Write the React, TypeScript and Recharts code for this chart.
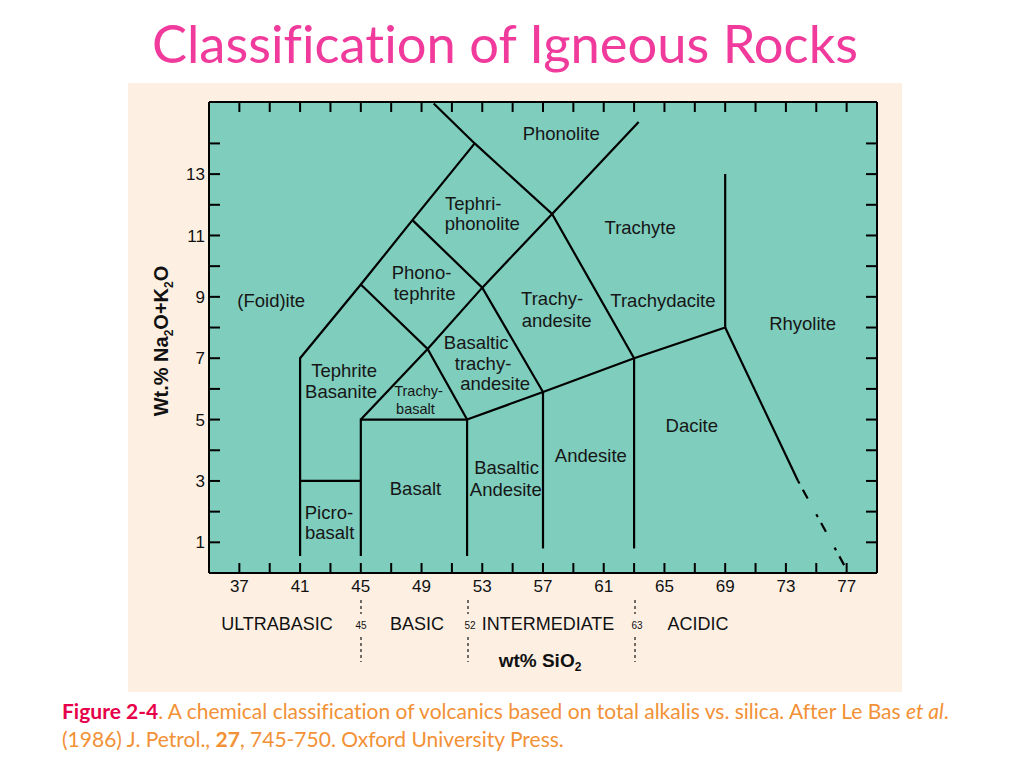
import React from 'react';
import { ComposedChart, Line, Scatter, XAxis, YAxis, CartesianGrid } from 'recharts';

// axis ticks (wt% SiO2 / wt% Na2O+K2O)
const X_TICKS = [37, 39, 41, 43, 45, 47, 49, 51, 53, 55, 57, 59, 61, 63, 65, 67, 69, 71, 73, 75, 77];
const X_LABELS = [37, 41, 45, 49, 53, 57, 61, 65, 69, 73, 77];
const Y_TICKS = [1, 2, 3, 4, 5, 6, 7, 8, 9, 10, 11, 12, 13, 14];
const Y_LABELS = [1, 3, 5, 7, 9, 11, 13];

// field boundaries as [SiO2, Na2O+K2O]
const foiditeEdge = [[41, 0.55], [41, 7], [45, 9.4], [48.4, 11.5], [52.5, 14]];
const phonoliteEdge = [[49.8, 15.3], [52.5, 14], [57.6, 11.7], [63, 7]];
const phonotephriteBase = [[45, 9.4], [49.4, 7.3], [52, 5]];
const tephriphonoliteBase = [[48.4, 11.5], [53, 9.3], [57, 5.9]];
const trachyteEdge = [[45, 5], [49.4, 7.3], [53, 9.3], [57.6, 11.7], [63.3, 14.7]];
const picrobasaltTop = [[41, 3], [45, 3]];
const basaltBox = [[45, 0.55], [45, 5], [52, 5], [52, 0.55]];
const alkalineEdge = [[52, 5], [57, 5.9], [63, 7], [69, 8], [69, 13]];
const andesiteEdge = [[57, 5.9], [57, 0.8]];
const daciteEdge = [[63, 7], [63, 0.8]];
const rhyoliteEdge = [[69, 8], [73.8, 3]];
const rhyoliteDashed = [[73.8, 3], [76.9, 0.2]];

const SOLID = [foiditeEdge, phonoliteEdge, phonotephriteBase, tephriphonoliteBase, trachyteEdge,
  picrobasaltTop, basaltBox, alkalineEdge, andesiteEdge, daciteEdge, rhyoliteEdge];

// rock names, one entry per text line
const FIELD_NAMES = ['Phonolite', 'Tephri-', 'phonolite', 'Trachyte', 'Phono-', 'tephrite', '(Foid)ite',
  'Trachy-', 'andesite', 'Trachydacite', 'Rhyolite', 'Basaltic', 'trachy-', 'andesite', 'Tephrite',
  'Basanite', 'Trachy-', 'basalt', 'Dacite', 'Andesite', 'Basaltic', 'Andesite', 'Basalt', 'Picro-', 'basalt'];
const FIELD_X = [58.2, 52.4, 53.0, 63.4, 49.0, 49.2, 39.1, 57.6, 57.9, 64.9, 74.1, 52.6, 53.05, 53.85, 43.9,
  43.7, 48.8, 48.6, 66.8, 60.15, 54.6, 54.55, 48.6, 42.9, 42.95];
const FIELD_Y = [14.34, 12.06, 11.41, 11.25, 9.81, 9.13, 8.87, 8.96, 8.25, 8.9, 8.15, 7.53, 6.84, 6.19, 6.62,
  5.93, 5.93, 5.35, 4.82, 3.85, 3.45, 2.74, 2.77, 1.99, 1.34];
const SMALL_NAMES = [16, 17];

const pts = (a: number[][]) => a.map(([x, y]) => ({ x, y }));

const fieldLabels = FIELD_NAMES.map((name, i) => ({
  x: FIELD_X[i], y: FIELD_Y[i], name, small: SMALL_NAMES.includes(i),
}));

const ARIAL = '"Liberation Sans", Arial, Helvetica, sans-serif';
const SLIDE_FONT = 'Lato, "Open Sans", sans-serif';
const TEAL = '#7ecdbd';
const BEIGE = '#fdf0e3';

const FieldName = (props: any) => {
  const { cx, cy, payload } = props;
  return (
    <text x={cx} y={cy} dy="0.36em" textAnchor="middle" fill="#161616"
      fontFamily={ARIAL} fontSize={payload.small ? 14.5 : 18.5}>
      {payload.name}
    </text>
  );
};

const axisLine = { stroke: '#000', strokeWidth: 2 };
const tickLine = { stroke: '#000', strokeWidth: 2 };
const tickText = { fill: '#111', fontSize: 17, fontFamily: ARIAL };

// SiO2 classes under the axis
const CLASS_NAMES = ['ULTRABASIC', 'BASIC', 'INTERMEDIATE', 'ACIDIC'];
const CLASS_X = [277, 417, 548, 698];
const SPLIT_NAMES = ['45', '52', '63'];
const SPLIT_X = [361, 468, 635];
const SPLIT_LABEL_X = [361, 470, 637];

export default function App() {
  return (
    <div style={{ position: 'absolute', left: 0, top: 0, width: 1024, height: 768, background: '#fff', overflow: 'hidden' }}>
      <div style={{
        position: 'absolute', left: 0, width: 1010, top: 13, textAlign: 'center', fontVariantLigatures: 'none',
        fontFamily: SLIDE_FONT, fontSize: 52.5, lineHeight: '60px', color: '#f03a9c',
      }}>
        Classification of Igneous Rocks
      </div>

      <div style={{ position: 'absolute', left: 128, top: 83, width: 774, height: 609, background: BEIGE }} />

      <div style={{ position: 'absolute', left: 0, top: 0 }}>
        <ComposedChart width={1024} height={768} margin={{ top: 92, right: 137, bottom: 165, left: 169 }}>
          <CartesianGrid horizontal={false} vertical={false} fill={TEAL} fillOpacity={1} />
          <XAxis type="number" dataKey="x" domain={[35, 79]} allowDataOverflow ticks={X_TICKS} interval={0}
            tickFormatter={(v: number) => (X_LABELS.includes(v) ? String(v) : '')}
            height={30} tickSize={-10} tickMargin={17} axisLine={axisLine} tickLine={tickLine} tick={tickText} />
          <XAxis xAxisId="top" orientation="top" type="number" dataKey="x" domain={[35, 79]} allowDataOverflow
            ticks={X_TICKS} interval={0} tickFormatter={() => ''} height={10} tickSize={-10}
            axisLine={axisLine} tickLine={tickLine} />
          <YAxis type="number" dataKey="y" domain={[0, 15.35]} allowDataOverflow ticks={Y_TICKS} interval={0}
            tickFormatter={(v: number) => (Y_LABELS.includes(v) ? String(v) : '')}
            width={40} tickSize={-11} tickMargin={15} axisLine={axisLine} tickLine={tickLine} tick={tickText} />
          <YAxis yAxisId="right" orientation="right" type="number" domain={[0, 15.35]} allowDataOverflow
            ticks={Y_TICKS} interval={0} tickFormatter={() => ''} width={10} tickSize={-11}
            axisLine={axisLine} tickLine={tickLine} />

          {SOLID.map((seg, i) => (
            <Line key={i} data={pts(seg)} dataKey="y" type="linear" stroke="#000" strokeWidth={2.2}
              dot={false} activeDot={false} isAnimationActive={false} />
          ))}
          <Line data={pts(rhyoliteDashed)} dataKey="y" type="linear" stroke="#000" strokeWidth={2.2}
            strokeDasharray="3 7 10 18" dot={false} activeDot={false} isAnimationActive={false} />

          <Scatter data={fieldLabels} dataKey="y" shape={FieldName} isAnimationActive={false} />
        </ComposedChart>
      </div>

      {/* y axis title */}
      <div style={{
        position: 'absolute', left: 163, top: 341, transform: 'translate(-50%, -50%) rotate(-90deg)',
        whiteSpace: 'nowrap', fontFamily: ARIAL, fontWeight: 'bold', fontSize: 20, color: '#111',
      }}>
        Wt.% Na<sub style={{ fontSize: 12 }}>2</sub>O+K<sub style={{ fontSize: 12 }}>2</sub>O
      </div>

      {/* SiO2 classes */}
      {CLASS_NAMES.map((c, i) => (
        <div key={c} style={{
          position: 'absolute', left: CLASS_X[i], top: 624, transform: 'translate(-50%, -50%)',
          fontFamily: ARIAL, fontSize: 18, color: '#111', whiteSpace: 'nowrap',
        }}>{c}</div>
      ))}
      {SPLIT_NAMES.map((s, i) => (
        <div key={s} style={{
          position: 'absolute', left: SPLIT_LABEL_X[i], top: 625, transform: 'translate(-50%, -50%)',
          fontFamily: ARIAL, fontSize: 10, color: '#111',
        }}>{s}</div>
      ))}
      <svg style={{ position: 'absolute', left: 0, top: 0 }} width={1024} height={768}>
        {SPLIT_X.map((x) => (
          <g key={x} stroke="#333" strokeWidth={1.4} strokeDasharray="3 3">
            <line x1={x} x2={x} y1={600} y2={614} />
            <line x1={x} x2={x} y1={637} y2={662} />
          </g>
        ))}
      </svg>

      {/* x axis title */}
      <div style={{
        position: 'absolute', left: 540, top: 662, transform: 'translate(-50%, -50%)',
        fontFamily: ARIAL, fontWeight: 'bold', fontSize: 19, color: '#111', whiteSpace: 'nowrap',
      }}>
        wt% SiO<sub style={{ fontSize: 12 }}>2</sub>
      </div>

      {/* caption */}
      <div style={{
        position: 'absolute', left: 62, top: 697, fontFamily: SLIDE_FONT, fontVariantLigatures: 'none',
        fontSize: 21, lineHeight: '28px', color: '#f29136', whiteSpace: 'nowrap',
      }}>
        <div>
          <b style={{ color: '#e6004a' }}>Figure 2-4</b>. A chemical classification of volcanics based on total alkalis vs. silica. After Le Bas <i>et al</i>.
        </div>
        <div>(1986) J. Petrol., <b>27</b>, 745-750. Oxford University Press.</div>
      </div>
    </div>
  );
}
